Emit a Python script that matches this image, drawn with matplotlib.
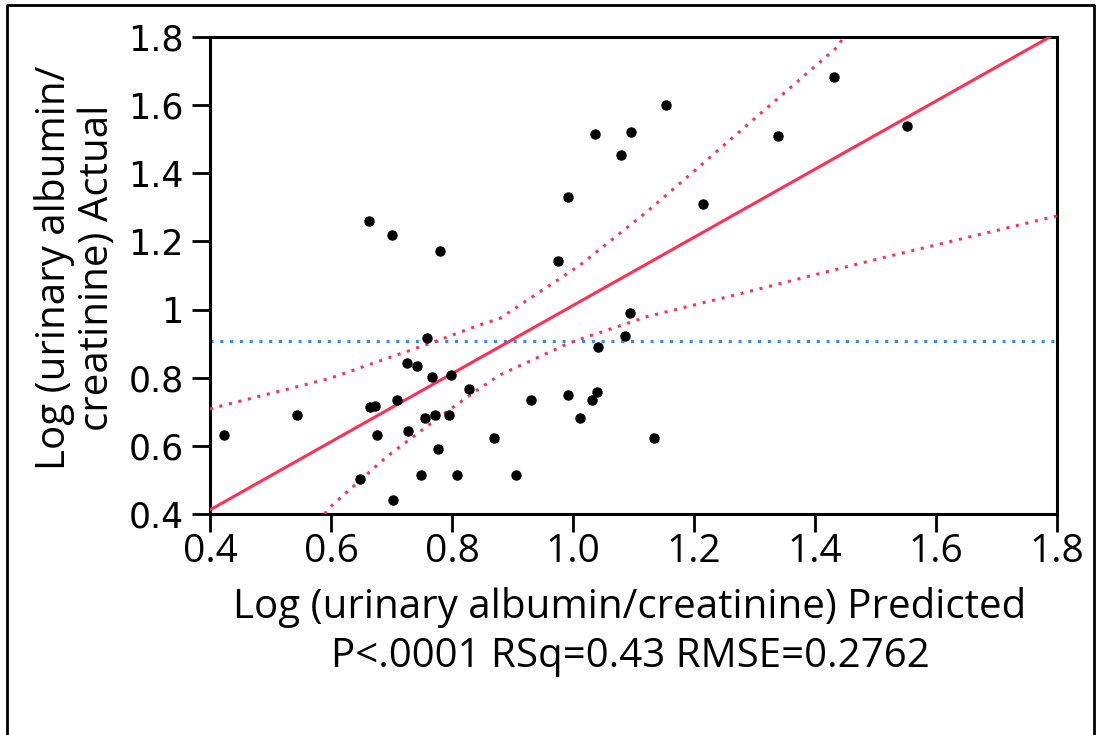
import numpy as np
import matplotlib
matplotlib.use("Agg")
import matplotlib.pyplot as plt
from matplotlib.lines import Line2D

# values
predicted = [0.663, 0.701, 0.780, 0.975, 0.992, 1.037, 1.080, 1.096, 1.154, 1.339,
             1.432, 1.552, 1.215,
             0.423, 0.543, 0.664, 0.673, 0.676, 0.648, 0.702, 0.709, 0.726, 0.742,
             0.758, 0.767, 0.798, 0.828, 0.728, 0.756, 0.772, 0.795, 0.777, 0.748,
             0.809, 0.870, 0.906, 0.930, 0.991, 1.012, 1.032, 1.040, 1.042, 1.086,
             1.095, 1.134]
actual = [1.261, 1.220, 1.173, 1.143, 1.330, 1.516, 1.453, 1.522, 1.600, 1.509,
          1.683, 1.539, 1.309,
          0.633, 0.691, 0.713, 0.717, 0.633, 0.502, 0.441, 0.735, 0.842, 0.835,
          0.917, 0.801, 0.808, 0.766, 0.643, 0.682, 0.691, 0.691, 0.590, 0.515,
          0.515, 0.623, 0.515, 0.735, 0.750, 0.682, 0.735, 0.757, 0.889, 0.923,
          0.991, 0.622]

# fit line and confidence curves
fit_slope = 1.0
fit_intercept = 0.012
upper_x = [0.400, 0.414, 0.598, 0.764, 0.846, 0.879, 1.012, 1.122, 1.215, 1.240, 1.320, 1.441, 1.445]
upper_y = [0.708, 0.715, 0.798, 0.901, 0.955, 0.974, 1.131, 1.287, 1.429, 1.468, 1.591, 1.777, 1.800]
lower_x = [0.590, 0.593, 0.692, 0.780, 0.846, 0.879, 0.995, 1.122, 1.215, 1.257, 1.491, 1.800]
lower_y = [0.400, 0.412, 0.568, 0.686, 0.769, 0.808, 0.903, 0.979, 1.020, 1.038, 1.143, 1.275]

yticks = [0.4, 0.6, 0.8, 1.0, 1.2, 1.4, 1.6, 1.8]
ytick_labels = ["0.4", "0.6", "0.8", "1", "1.2", "1.4", "1.6", "1.8"]
xticks = [0.4, 0.6, 0.8, 1.0, 1.2, 1.4, 1.6, 1.8]
xtick_labels = ["0.4", "0.6", "0.8", "1.0", "1.2", "1.4", "1.6", "1.8"]

red = "#ff2f55"
blue = "#2a8cff"
lab_font = "Open Sans"

W, H = 1099, 735
fig = plt.figure(figsize=(W / 100, H / 100), dpi=100)
ax = fig.add_axes([210 / W, 1 - 514 / H, 847 / W, 477 / H])

ax.axhline(np.mean(actual), color=blue, lw=2.2, linestyle=(0, (1, 2.2)), zorder=2)
ax.axline((0, fit_intercept), slope=fit_slope, color=red, lw=2.2, zorder=3)
ax.plot(upper_x, upper_y, color=red, lw=2.2, linestyle=(0, (1, 2.2)), zorder=3)
ax.plot(lower_x, lower_y, color=red, lw=2.2, linestyle=(0, (1, 2.2)), zorder=3)
ax.plot(predicted, actual, "o", color="black", ms=6.5, zorder=4)

ax.set_xlim(0.4, 1.8)
ax.set_ylim(0.4, 1.8)
ax.set_xticks(xticks)
ax.set_xticklabels(xtick_labels, family=lab_font, fontsize=28)
ax.set_yticks(yticks)
ax.set_yticklabels(ytick_labels, family="DejaVu Sans", fontsize=25)
ax.tick_params(axis="both", direction="out", length=13, width=2, color="black")
ax.tick_params(axis="y", pad=6)
ax.tick_params(axis="x", pad=1)
for s in ax.spines.values():
    s.set_linewidth(2.2)

fig.text(76 / W, 1 - 268 / H, "Log (urinary albumin/\ncreatinine) Actual",
         rotation=90, ha="center", va="center", multialignment="center",
         family=lab_font, fontsize=29, linespacing=1.05)
fig.text(630 / W, 1 - 607 / H, "Log (urinary albumin/creatinine) Predicted",
         ha="center", va="center", family=lab_font, fontsize=29)
fig.text(630 / W, 1 - 657 / H, "P<.0001 RSq=0.43 RMSE=0.2762",
         ha="center", va="center", family=lab_font, fontsize=29)

# outer frame
frame = Line2D([7 / W, 7 / W, 1094 / W, 1094 / W], [-0.1, 1 - 5 / H, 1 - 5 / H, -0.1],
               transform=fig.transFigure, color="black", lw=2)
fig.add_artist(frame)

fig.savefig("out.png", dpi=100)
